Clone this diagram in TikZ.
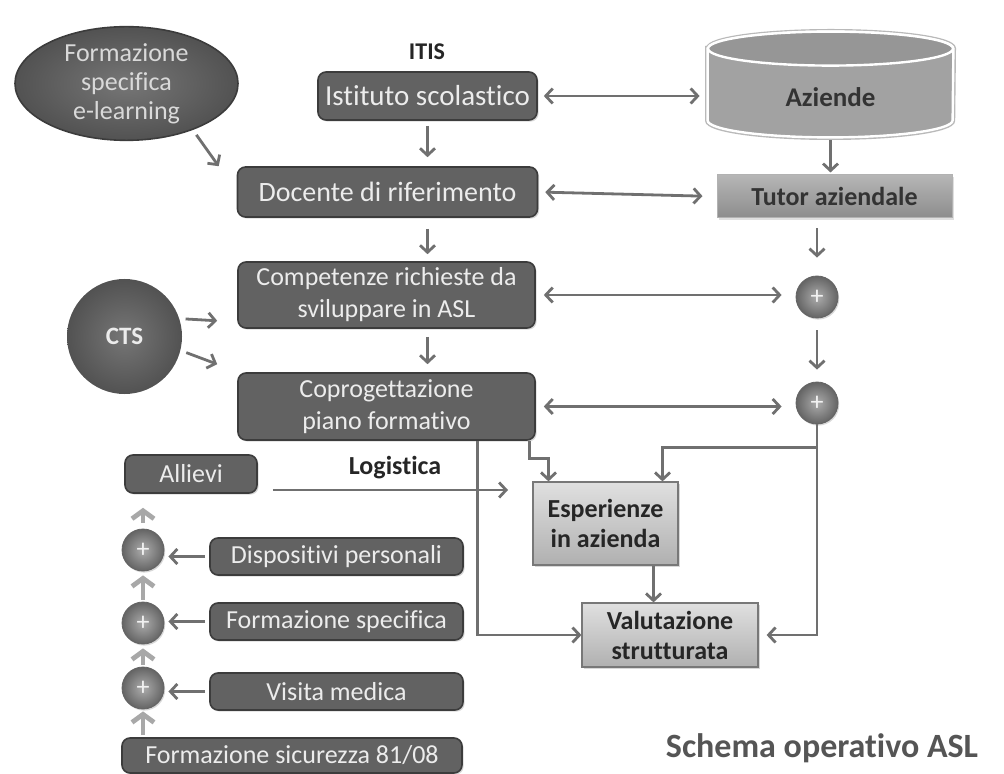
\documentclass[tikz,border=0pt]{standalone}
\usepackage{fontspec}
\setmainfont{Carlito}[Ligatures=NoCommon]
\usetikzlibrary{arrows.meta,shapes.geometric,shadows}

\definecolor{boxgray}{RGB}{98,98,98}
\definecolor{boxedge}{RGB}{60,60,60}
\definecolor{boxtext}{RGB}{236,236,236}
\definecolor{arrgray}{RGB}{112,112,112}
\definecolor{lightedge}{RGB}{120,120,120}
\definecolor{chevgray}{RGB}{168,168,168}
\definecolor{cylbody}{RGB}{162,162,162}
\definecolor{cyltop}{RGB}{150,150,150}
\definecolor{tutortop}{RGB}{182,182,182}
\definecolor{tutorbot}{RGB}{140,140,140}
\definecolor{esptop}{RGB}{224,224,224}
\definecolor{espbot}{RGB}{176,176,176}
\definecolor{titlegray}{RGB}{85,85,85}
\definecolor{ovalin}{RGB}{118,118,118}
\definecolor{ovalout}{RGB}{82,82,82}
\definecolor{ballin}{RGB}{172,172,172}
\definecolor{ballout}{RGB}{100,100,100}

\tikzset{
  darkbox/.style={rectangle, rounded corners=4pt, draw=boxedge, line width=0.8pt,
    fill=boxgray, text=boxtext, font=\fontsize{13}{16}\selectfont, align=center,
    inner sep=0pt, drop shadow={shadow xshift=0.8pt, shadow yshift=-0.8pt, opacity=0.3}},
  lightbox/.style={rectangle, draw=lightedge, line width=0.6pt, top color=esptop,
    bottom color=espbot, text=black!85, font=\bfseries\fontsize{13}{15}\selectfont,
    align=center, inner sep=0pt,
    drop shadow={shadow xshift=0.8pt, shadow yshift=-0.8pt, opacity=0.3}},
  plusball/.style={circle, inner color=ballin, outer color=ballout, draw=ballout,
    line width=0.4pt, minimum size=21pt, inner sep=0pt, text=white!95!black,
    font=\fontsize{13}{13}\selectfont,
    drop shadow={shadow xshift=0.6pt, shadow yshift=-0.8pt, opacity=0.3}},
  arr/.style={draw=arrgray, line width=1.4pt, -{Straight Barb[length=3.5pt,width=7.5pt]}},
  darr/.style={arr, {Straight Barb[length=3.5pt,width=7.5pt]}-{Straight Barb[length=3.5pt,width=7.5pt]}},
  uparr/.style={draw=chevgray, line width=2.4pt, -{Straight Barb[length=4pt,width=11pt]}},
  tag/.style={font=\bfseries\fontsize{13}{15}\selectfont, text=black!85},
}

\begin{document}
\begin{tikzpicture}[x=0.5pt,y=-0.5pt]
\useasboundingbox[fill=white] (0,0) rectangle (1004,774);

% left inputs
\node[ellipse, minimum width=111.5pt, minimum height=53.5pt, inner sep=0pt, draw=boxedge,
  line width=0.8pt, inner color=ovalin, outer color=ovalout, text=boxtext!92!black,
  font=\fontsize{13}{14.5}\selectfont, align=center] (elearn) at (126.5,83.5)
  {Formazione\\specifica\\e-learning};
\node[circle, minimum size=57.5pt, inner sep=0pt, inner color=ovalin,
  outer color=ovalout, text=boxtext, font=\bfseries\fontsize{12.5}{14}\selectfont]
  (cts) at (124.5,336.5) {CTS};

% central column
\node[tag, font=\bfseries\fontsize{12}{14}\selectfont] (itis) at (427,52) {ITIS};
\node[darkbox, minimum width=109.5pt, minimum height=24pt, font=\fontsize{14.5}{16}\selectfont]
  (isti) at (427.5,96) {Istituto scolastico};
\node[darkbox, minimum width=150pt, minimum height=25pt, font=\fontsize{14}{16}\selectfont]
  (doc) at (387.5,192) {Docente di riferimento};
\node[darkbox, minimum width=148.5pt, minimum height=33pt] (comp) at (386.5,295)
  {Competenze richieste da\\sviluppare in ASL};
\node[darkbox, minimum width=148.5pt, minimum height=33.5pt] (cop) at (386.5,406.5)
  {Coprogettazione\\piano formativo};

% right column
\node[minimum width=122.5pt, minimum height=52.5pt, inner sep=0pt] (aziende) at (830.5,84.5) {};
\draw[gray!55, line width=2.6pt] ([yshift=-8.5pt]aziende.north west) -- ([yshift=8.5pt]aziende.south west)
  arc[start angle=180, end angle=360, x radius=61.25pt, y radius=8.5pt]
  -- ([yshift=-8.5pt]aziende.north east)
  arc[start angle=0, end angle=180, x radius=61.25pt, y radius=8.5pt] -- cycle;
\draw[fill=cylbody, draw=white, line width=1.2pt] ([yshift=-8.5pt]aziende.north west)
  -- ([yshift=8.5pt]aziende.south west)
  arc[start angle=180, end angle=360, x radius=61.25pt, y radius=8.5pt]
  -- ([yshift=-8.5pt]aziende.north east)
  arc[start angle=0, end angle=180, x radius=61.25pt, y radius=8.5pt] -- cycle;
\draw[fill=cyltop, draw=white, line width=1.2pt] ([yshift=-8.5pt]aziende.north)
  ellipse[x radius=61.25pt, y radius=8.5pt];
\node[tag, text=black!80, font=\bfseries\fontsize{13.5}{15}\selectfont] (azlabel) at (830.5,97) {Aziende};
\node[rectangle, minimum width=117.5pt, minimum height=21.5pt, inner sep=0pt, draw=gray!60,
  line width=0.5pt, top color=tutortop, bottom color=tutorbot, tag, text=black!80,
  drop shadow={shadow xshift=0.8pt, shadow yshift=-0.8pt, opacity=0.25}]
  (tutor) at (834.5,196.5) {Tutor aziendale};
\node[plusball] (plusA) at (817,297) {+};
\node[plusball] (plusB) at (817,403) {+};

% esperienze e valutazione
\node[lightbox, minimum width=72.5pt, minimum height=41.5pt] (esp) at (605.5,523.5)
  {Esperienze\\in azienda};
\node[lightbox, minimum width=88pt, minimum height=32pt] (val) at (670,635)
  {Valutazione\\strutturata};

% allievi
\node[darkbox, minimum width=66pt, minimum height=19pt] (allievi) at (191,474) {Allievi};
\node[tag] (logistica) at (395,468) {Logistica};
\coordinate (logend) at (508,490);
\node[plusball] (plusL1) at (143,550) {+};
\node[plusball] (plusL2) at (143,623) {+};
\node[plusball] (plusL3) at (143,688) {+};
\node[darkbox, minimum width=126.5pt, minimum height=18.5pt] (disp) at (336.5,556.5) {Dispositivi personali};
\node[darkbox, minimum width=126.5pt, minimum height=18.5pt] (fspec) at (336.5,621.5) {Formazione specifica};
\node[darkbox, minimum width=126.5pt, minimum height=18.5pt] (visita) at (336.5,691.5) {Visita medica};
\node[darkbox, minimum width=170pt, minimum height=17.5pt] (sicur) at (292,755.5) {Formazione sicurezza 81/08};

\node[font=\bfseries\fontsize{17}{20}\selectfont, text=titlegray] (schema) at (822,748) {Schema operativo ASL};

% connectors
\draw[arr, shorten <=3pt] (elearn.-35) -- ([xshift=-9pt]doc.north west);
\draw[arr, shorten <=3pt] (cts.18) -- ([xshift=-10pt,yshift=4pt]comp.south west);
\draw[arr, shorten <=3pt] (cts.-14) -- ([xshift=-10pt,yshift=4pt]cop.north west);

\draw[arr, shorten <=2.5pt, shorten >=4.5pt] (isti.south) -- (isti.south |- doc.north);
\draw[arr, shorten <=5.5pt, shorten >=3.5pt] (doc.south -| isti.south) -- (comp.north -| isti.south);
\draw[arr, shorten <=4pt, shorten >=4pt] (comp.south -| isti.south) -- (cop.north -| isti.south);

\draw[darr, shorten <=3pt, shorten >=4pt] (isti.east) -- (isti.east -| aziende.west);
\draw[darr, shorten <=3.5pt, shorten >=7pt] (doc.east) -- (tutor.west);
\draw[darr, shorten <=4pt, shorten >=7pt] (comp.east) -- (comp.east -| plusA.west);
\draw[darr, shorten <=4pt, shorten >=7pt] (cop.east) -- (cop.east -| plusB.west);

\draw[arr, shorten <=1.5pt, shorten >=1pt] (aziende.south) -- (aziende.south |- tutor.north);
\draw[arr, shorten <=5pt, shorten >=9pt] (tutor.south -| plusA) -- (plusA.north);
\draw[arr, shorten <=6pt, shorten >=6pt] (plusA.south) -- (plusB.north);

\draw[arr] ([xshift=45.5pt]cop.south) |- (val.west);
\draw[arr] ([xshift=71.5pt]cop.south) -- ++(0,18) -| ([xshift=-28.5pt]esp.north);
\draw[arr, shorten >=4pt] (plusB.south) |- (val.east);
\draw[arr] ([yshift=-11.5pt]plusB.south) -| ([xshift=28.5pt]esp.north);
\draw[arr] ([xshift=24pt]esp.south) -- ([xshift=24pt]esp.south |- val.north);
\draw[arr, shorten <=7.5pt] ([yshift=-8pt]allievi.east) -- (logend);

\draw[arr, shorten <=2pt, shorten >=2pt] (disp.west) -- (disp.west -| plusL1.east);
\draw[arr, shorten <=2pt, shorten >=2pt] (fspec.west) -- (fspec.west -| plusL2.east);
\draw[arr, shorten <=2pt, shorten >=2pt] (visita.west) -- (visita.west -| plusL3.east);

\draw[uparr, shorten <=1pt, shorten >=1pt] (sicur.north -| plusL3) -- (plusL3.south);
\draw[uparr, shorten <=1pt, shorten >=2pt] (plusL3.north) -- (plusL2.south);
\draw[uparr, shorten <=1pt, shorten >=2pt] (plusL2.north) -- (plusL1.south);
\draw[uparr, shorten <=3pt, shorten >=7pt] (plusL1.north) -- (plusL1.north |- allievi.south);
\end{tikzpicture}
\end{document}
